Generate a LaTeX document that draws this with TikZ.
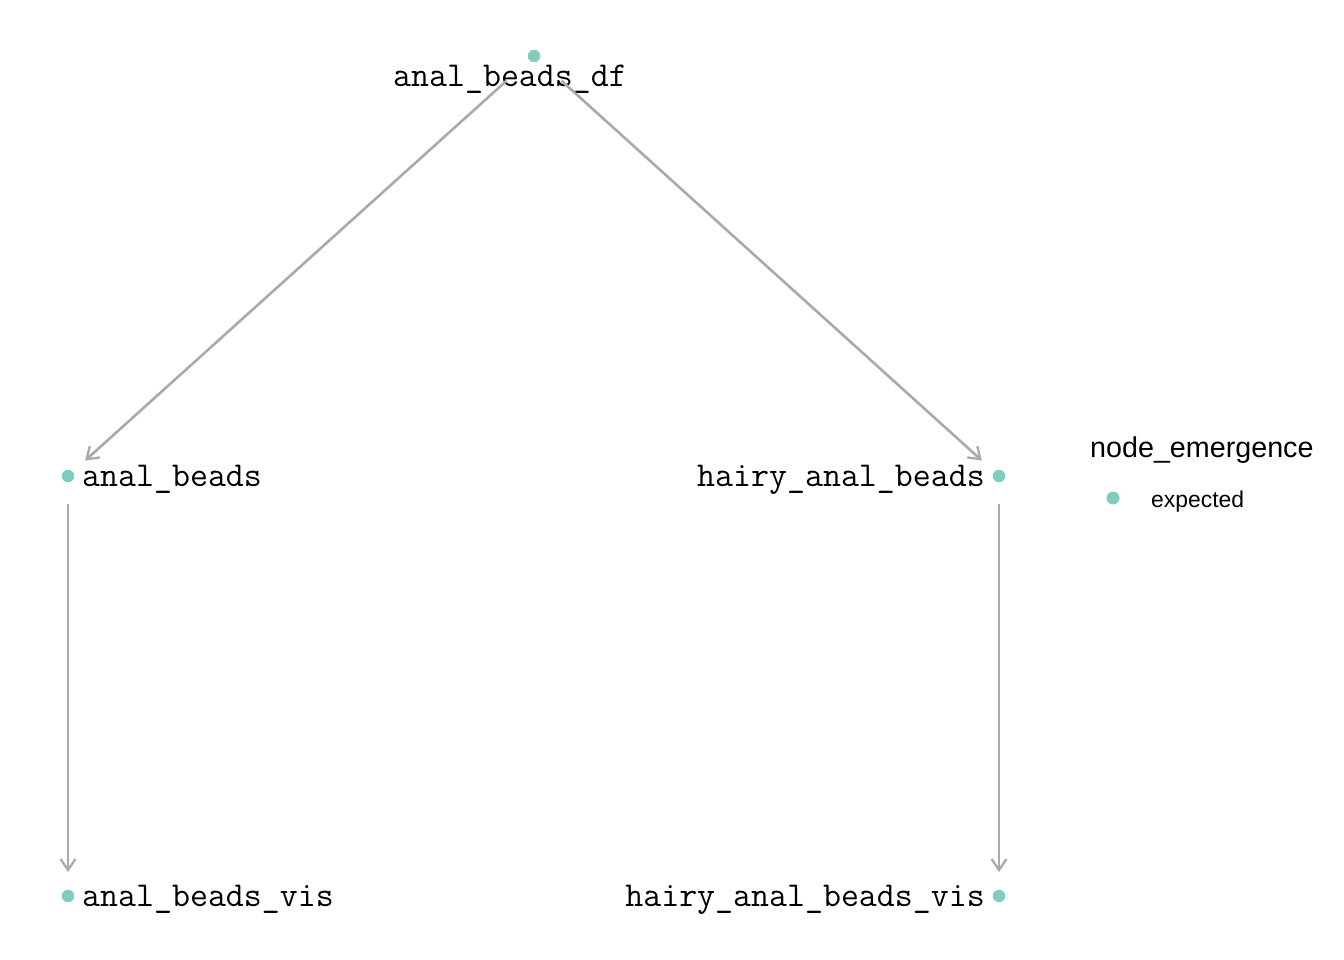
\documentclass[tikz,border=0pt]{standalone}
\usepackage{fontspec}
\setsansfont{Liberation Sans}
\usetikzlibrary{arrows.meta}
\definecolor{dotcol}{RGB}{128,205,190}
\definecolor{edgecol}{RGB}{170,170,170}
\begin{document}
\begin{tikzpicture}[x=1pt,y=-1pt,
  dot/.style={circle,fill=dotcol,draw=none,minimum size=12.5pt,inner sep=0pt},
  lbl/.style={inner sep=0pt,font=\ttfamily\fontsize{34.9}{41}\selectfont},
  edge/.style={draw=edgecol,line width=2.6pt,-{Straight Barb[length=11pt,width=15pt,line width=2.3pt]}},
  legtitle/.style={inner sep=0pt,font=\sffamily\fontsize{28.7}{34}\selectfont},
  legtext/.style={inner sep=0pt,font=\sffamily\fontsize{22.9}{28}\selectfont}]
\useasboundingbox (0,0) rectangle (1344,960);
% dots
\node[dot] (d1) at (534,56) {};
\node[dot] (d2) at (68,476) {};
\node[dot] (d3) at (999,476) {};
\node[dot] (d4) at (68,896) {};
\node[dot] (d5) at (999,896) {};
% labels
\node[lbl,anchor=base] (l1) at (510,87) {anal\_beads\_df};
\node[lbl,anchor=base west] (l2) at (82,486) {anal\_beads};
\node[lbl,anchor=base east] (l3) at (985,486) {hairy\_anal\_beads};
\node[lbl,anchor=base west] (l4) at (82,906) {anal\_beads\_vis};
\node[lbl,anchor=base east] (l5) at (985,906) {hairy\_anal\_beads\_vis};
% edges
\draw[edge,shorten <=37pt,shorten >=23pt] (d1.center) -- (d2.center);
\draw[edge,shorten <=37pt,shorten >=23pt] (d1.center) -- (d3.center);
\draw[edge,shorten <=28pt,shorten >=24pt] (d2.center) -- (d4.center);
\draw[edge,shorten <=28pt,shorten >=24pt] (d3.center) -- (d5.center);
% legend
\node[legtitle,anchor=base west] (lt) at (1090,457) {node\_emergence};
\node[dot,minimum size=13pt] (ld) at (1113,498) {};
\node[legtext,anchor=base west] (le) at (1151,507) {expected};
\end{tikzpicture}
\end{document}
